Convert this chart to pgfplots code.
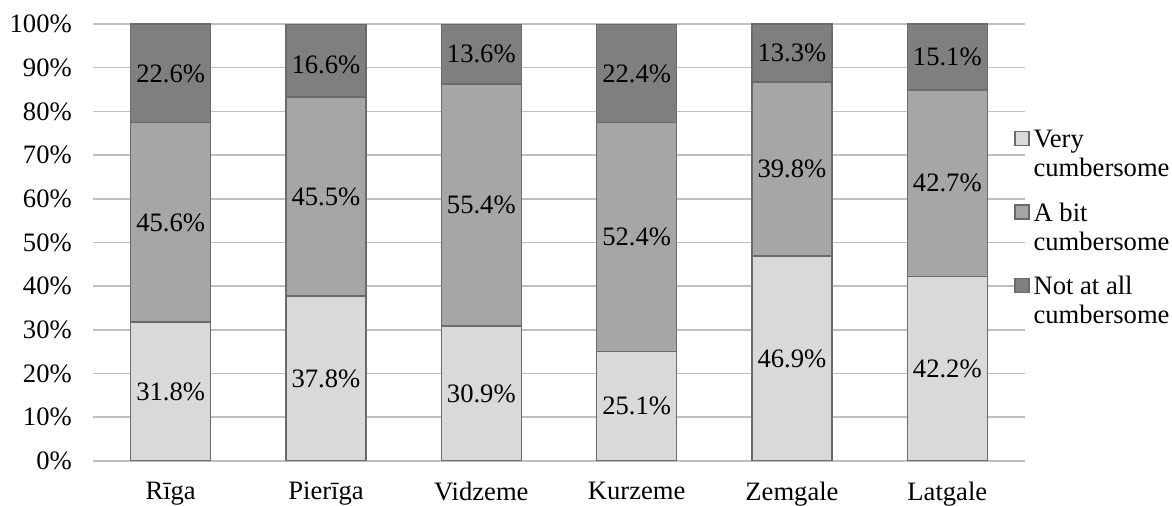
\documentclass[border=0pt]{standalone}
\usepackage{pgfplots}
\pgfplotsset{compat=1.18}
\usepackage{pgfplotstable}
\usepackage{fontspec}
\setmainfont{Liberation Serif}
\definecolor{c1}{HTML}{D9D9D9}
\definecolor{c2}{HTML}{A6A6A6}
\definecolor{c3}{HTML}{7F7F7F}
\definecolor{edge}{HTML}{6B6B6B}
\definecolor{grid}{HTML}{D9D9D9}
\pgfplotstableread{
x very bit not
0 31.8 45.6 22.6
1 37.8 45.5 16.6
2 30.9 55.4 13.6
3 25.1 52.4 22.4
4 46.9 39.8 13.3
5 42.2 42.7 15.1
}\data
\pgfplotstableread{
x y label
0 15.9 31.8\%
1 18.9 37.8\%
2 15.45 30.9\%
3 12.55 25.1\%
4 23.45 46.9\%
5 21.1 42.2\%
0 54.6 45.6\%
1 60.55 45.5\%
2 58.6 55.4\%
3 51.3 52.4\%
4 66.8 39.8\%
5 63.55 42.7\%
0 88.7 22.6\%
1 90.6 16.6\%
2 93.1 13.6\%
3 88.7 22.4\%
4 93.35 13.3\%
5 92.45 15.1\%
}\labels
\pgfplotsset{
  common/.style={
    at={(46.5pt,22.5pt)},
    anchor=south west,
    scale only axis,
    width=466pt, height=218.5pt,
    xmin=-0.5, xmax=5.5,
    ymin=0, ymax=100,
  }
}
\newcommand{\fs}{\fontsize{13.3pt}{14.5pt}\selectfont}
\begin{document}
\fs
\begin{tikzpicture}
\useasboundingbox (0,0) rectangle (586pt,253pt);
\begin{axis}[
  common,
  ybar stacked,
  bar width=40pt,
  xtick=data,
  xticklabels={Rīga,Pierīga,Vidzeme,Kurzeme,Zemgale,Latgale},
  ytick={0,10,...,100},
  yticklabel={\pgfmathprintnumber{\tick}\%},
  /pgf/number format/assume math mode=true,
  ymajorgrids,
  major grid style={grid, line width=0.8pt},
  axis line style={draw=none},
  tick style={draw=none},
  xtick pos=bottom,
  ytick pos=left,
  tick label style={font=\fs},
  xticklabel style={yshift=-6pt},
  yticklabel style={xshift=-6pt},
  legend style={
    at={(0.988,0.767)}, anchor=north west,
    draw=none, fill=none,
    font=\fs,
    cells={anchor=base west},
    row sep=21.5pt,
    inner sep=0pt,
  },
  legend image code/.code={
    \draw[#1, draw=edge, line width=0.7pt] (0pt,1pt) rectangle (7pt,8pt);
  },
]
\addplot[fill=c1, draw=edge, line width=0.7pt] table[x=x, y=very] {\data};
\addplot[fill=c2, draw=edge, line width=0.7pt] table[x=x, y=bit] {\data};
\addplot[fill=c3, draw=edge, line width=0.7pt] table[x=x, y=not] {\data};
\legend{\vtop{\hbox{Very}\hbox{cumbersome}}, \vtop{\hbox{A bit}\hbox{cumbersome}}, \vtop{\hbox{Not at all}\hbox{cumbersome}}}
\end{axis}
\begin{axis}[
  common,
  hide axis,
]
\addplot[only marks, mark=none,
  nodes near coords, point meta=explicit symbolic,
  every node near coord/.style={anchor=center, font=\fs, text=black}]
  table[x=x, y=y, meta=label] {\labels};
\end{axis}
\end{tikzpicture}
\end{document}
